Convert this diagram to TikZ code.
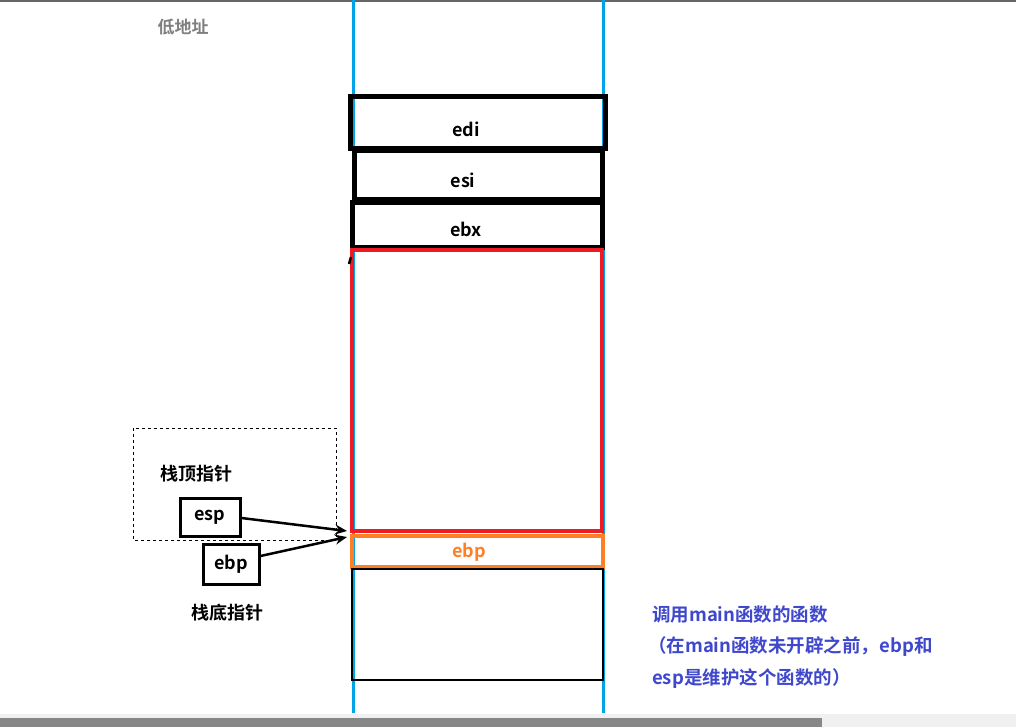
\documentclass[tikz,border=0pt]{standalone}
\usepackage{fontspec}
\setmainfont{Noto Sans CJK SC Bold}
\usetikzlibrary{arrows.meta}
\definecolor{lineblue}{HTML}{00A2E8}
\definecolor{boxred}{HTML}{ED1C24}
\definecolor{boxorange}{HTML}{FF7F27}
\definecolor{txtblue}{HTML}{3F48CC}
\definecolor{txtgray}{HTML}{7F7F7F}
\tikzset{
  ptrbox/.style={draw=black, line width=3pt, inner sep=0pt},
  lbl/.style={font=\fontsize{18}{20}\selectfont, inner sep=0pt},
  note/.style={font=\fontsize{18.5}{20}\selectfont, text=txtblue, inner sep=0pt, anchor=west},
  ptrarrow/.style={line width=2.5pt, -{Stealth[length=12pt,width=10pt,inset=4pt]}},
}
\begin{document}
\begin{tikzpicture}[x=1pt,y=-1pt]
\useasboundingbox (0,0) rectangle (1016,727);
\fill[white] (0,0) rectangle (1016,727);
% top rule and bottom scrollbar
\draw[line width=2pt, color=black!60] (0,1) -- (1016,1);
\fill[black!6] (0,714) rectangle (1016,727);
\fill[black!47] (0,718) rectangle (822,727);
% blue stack boundaries
\draw[lineblue, line width=3pt] (353,0) -- (353,713);
\draw[lineblue, line width=3pt] (603,0) -- (603,713);
% stack frames
\node[draw=black, line width=5pt, minimum width=255pt, minimum height=52pt, inner sep=0pt] (edi) at (477.5,123) {};
\node[draw=black, line width=5pt, minimum width=248pt, minimum height=49pt, inner sep=0pt] (esi) at (478,175.5) {};
\node[draw=black, line width=5pt, minimum width=250pt, minimum height=44pt, inner sep=0pt] (ebx) at (477,225) {};
\node[draw=boxred, line width=4pt, minimum width=250pt, minimum height=281pt, inner sep=0pt] (frame) at (477,390.5) {};
\node[draw=boxorange, line width=4pt, minimum width=251pt, minimum height=31pt, inner sep=0pt] (ebpslot) at (477.5,551.5) {};
\node[draw=black, line width=2pt, minimum width=251pt, minimum height=111pt, inner sep=0pt] (caller) at (477.5,624.5) {};
\draw[black, line width=2.5pt] (349,264) -- (351,257);
% labels in frames
\node[lbl] (tedi) at (466,129) {edi};
\node[lbl] (tesi) at (463,180) {esi};
\node[lbl] (tebx) at (466,229) {ebx};
\node[lbl, text=boxorange] (tebp) at (469,552) {ebp};
% low address label
\node[lbl, text=txtgray, font=\fontsize{17}{20}\selectfont] (low) at (183,27) {低地址};
% pointer area
\draw[dashed, line width=0.8pt] (133,428) rectangle (336,540);
\node[lbl] (toplbl) at (196,474) {栈顶指针};
\node[ptrbox, minimum width=60pt, minimum height=38pt] (esp) at (210,517) {\fontsize{18}{20}\selectfont esp};
\node[ptrbox, minimum width=56pt, minimum height=40pt] (ebp) at (231,564) {\fontsize{18}{20}\selectfont ebp};
\node[lbl] (botlbl) at (227,613) {栈底指针};
\coordinate (esptip) at (347,531);
\coordinate (ebptip) at (347,537);
\draw[ptrarrow] (esp.east |- 0,518) -- (esptip);
\draw[ptrarrow] (ebp.east |- 0,556) -- (ebptip);
% note
\node[note] (n1) at (652,615) {调用main函数的函数};
\node[note] (n2) at (648,647) {（在main函数未开辟之前，ebp和};
\node[note] (n3) at (652,679) {esp是维护这个函数的）};
\end{tikzpicture}
\end{document}
